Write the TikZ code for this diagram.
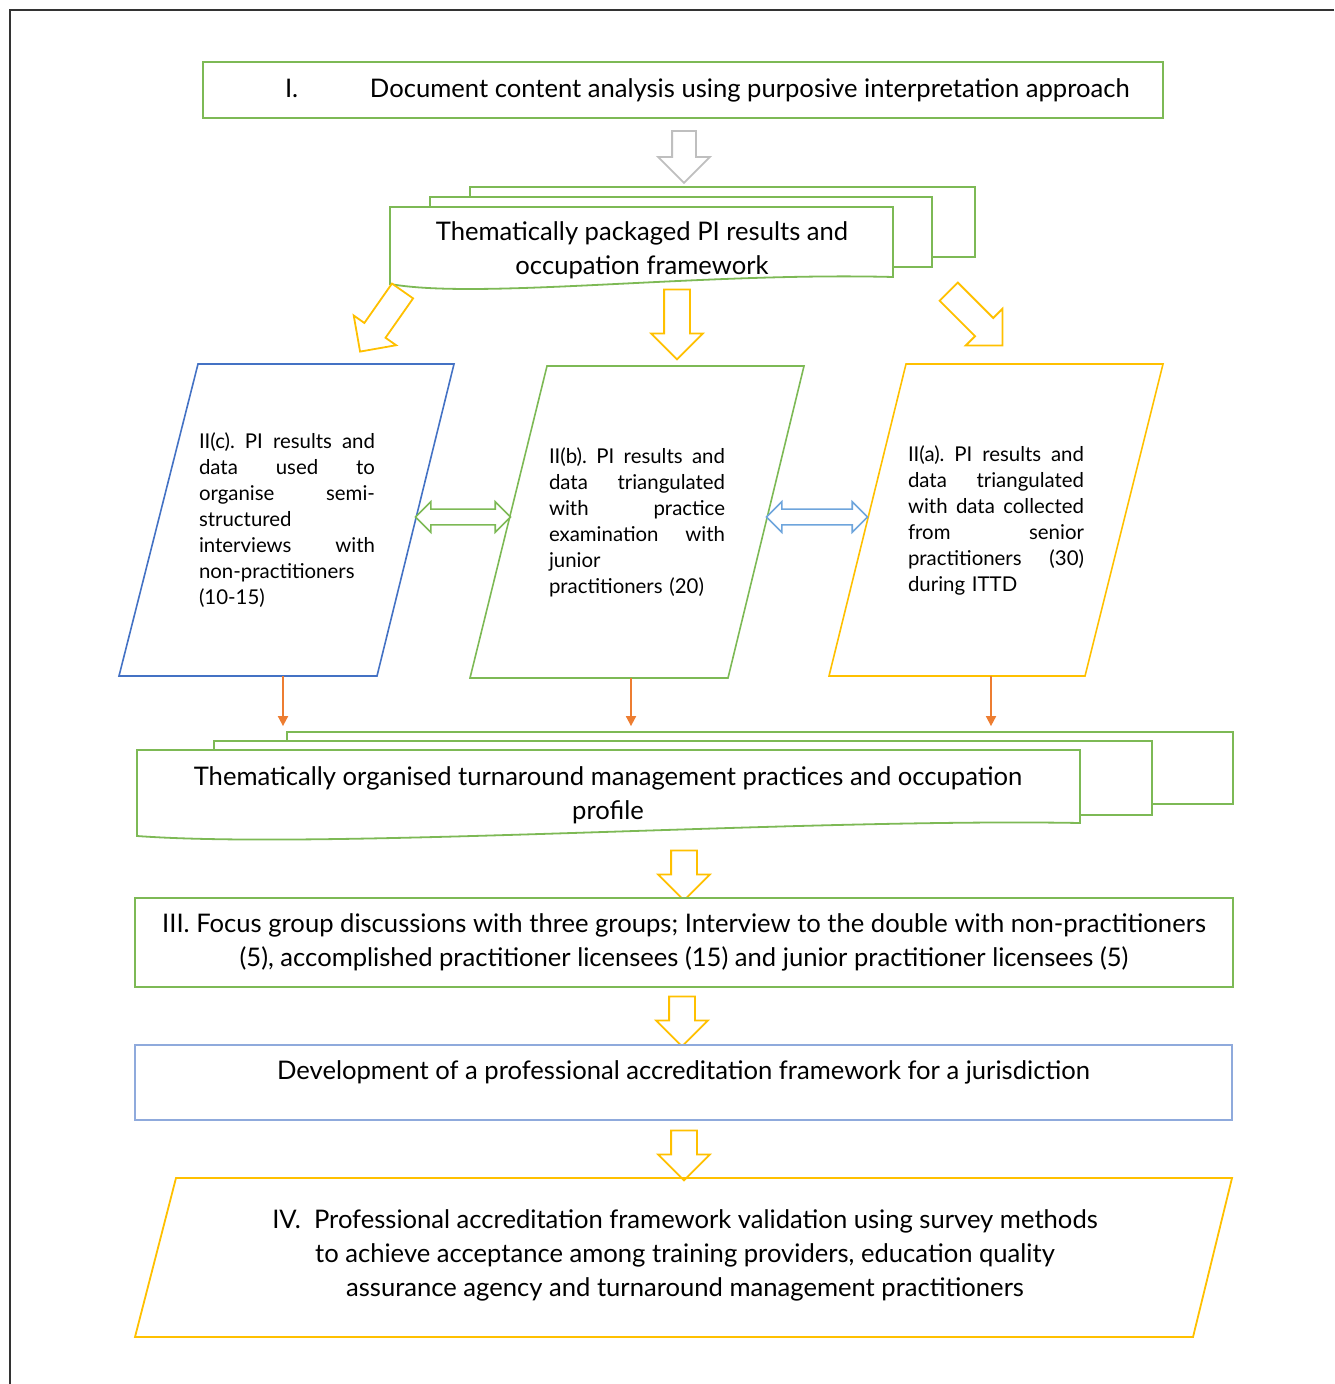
\documentclass[tikz,border=0pt]{standalone}
\usepackage{fontspec}
\setmainfont{Lato}
\usetikzlibrary{positioning,arrows.meta,calc,shapes.arrows}

\definecolor{bgreen}{RGB}{125,185,85}
\definecolor{bblue}{RGB}{68,114,196}
\definecolor{lblue}{RGB}{143,170,220}
\definecolor{sblue}{RGB}{110,165,220}
\definecolor{byellow}{RGB}{255,192,0}
\definecolor{borange}{RGB}{237,125,49}
\definecolor{lgray}{RGB}{191,191,191}

\newcommand{\sline}[1]{\leavevmode\hbox to 88pt{#1}}

\begin{document}
\begin{tikzpicture}[
  x=0.5pt, y=-0.5pt,
  big/.style={font=\fontsize{12.8}{17}\selectfont},
  small/.style={font=\fontsize{10.2}{13}\selectfont},
  block/.style={draw=#1, line width=1pt, fill=white, inner sep=0pt},
  page/.style={draw=bgreen, line width=0.9pt, fill=white, inner sep=0pt},
  ptext/.style={small, text width=88pt, minimum height=156pt, align=left, inner sep=0pt},
  para/.style={line width=0.8pt},
  harr/.style={single arrow, draw=#1, fill=white, line width=0.9pt, inner xsep=0pt,
    inner ysep=6pt, minimum width=0pt, single arrow head extend=6.5pt,
    text height=0pt, text depth=0pt},
  darr/.style={double arrow, draw=#1, fill=white, line width=0.8pt, inner xsep=0pt,
    inner ysep=3.5pt, minimum width=0pt, double arrow head extend=3.75pt,
    text height=0pt, text depth=0pt},
  oarr/.style={draw=borange, line width=0.9pt, -{Triangle[length=5pt,width=5pt]}, shorten >=2.5pt}
]
\useasboundingbox (0,0) rectangle (1334,1384);
\draw[black!80, line width=1pt] (10,1384) -- (10,10) -- (1334,10);

% step I
\node[block=bgreen, big, minimum width=480pt, minimum height=28pt] (doc) at (683,90)
  {\makebox[480pt][l]{\hspace{41pt}\makebox[42.5pt][l]{I.}Document content analysis using purposive interpretation approach}};

% packaged results (stacked pages)
\node[page, minimum width=252.5pt, minimum height=35pt] (pkback) at (722.5,222) {};
\node[page, minimum width=251pt, minimum height=35pt] (pkmid) at (681,232) {};
\draw[page] (390,207) -- (893,207) -- (893,277) .. controls (700,272) and (480,300) .. (390,284) -- cycle;
\node[big, align=center] (pack) at (642,250) {Thematically packaged PI results and\\occupation framework};

\node[harr=lgray, minimum height=26pt, rotate=-90, inner ysep=5.5pt, single arrow head extend=7pt] (a0) at (684,151) {};

% block arrows to phase II
\node[harr=byellow, minimum height=37pt, rotate=235] (a1) at (385,316) {};
\node[harr=byellow, minimum height=35pt, rotate=-90] (a2) at (677,318) {};
\node[harr=byellow, minimum height=38pt, rotate=-45] (a3) at (971,314) {};

% phase II
\draw[para, draw=bblue] (198,364) -- (454,364) -- (377,676) -- (119,676) -- cycle;
\draw[para, draw=bgreen] (547,366) -- (804,366) -- (728,678) -- (470,678) -- cycle;
\draw[para, draw=byellow] (906,364) -- (1163,364) -- (1085,676) -- (829,676) -- cycle;

\node[ptext] (IIc) at (287,520) {\sline{II(c).\hfill PI\hfill results\hfill and}\\ \sline{data\hfill used\hfill to}\\
  \sline{organise\hfill semi-}\\ structured\\ \sline{interviews\hfill with}\\ non-practitioners\\ (10-15)};
\node[ptext] (IIb) at (637,522) {\sline{II(b).\hfill PI\hfill results\hfill and}\\ \sline{data\hfill triangulated}\\
  \sline{with\hfill practice}\\ \sline{examination\hfill with}\\ junior\\ practitioners (20)};
\node[ptext] (IIa) at (996,520) {\sline{II(a).\hfill PI\hfill results\hfill and}\\ \sline{data\hfill triangulated}\\
  \sline{with\hfill data\hfill collected}\\ \sline{from\hfill senior}\\ \sline{practitioners\hfill (30)}\\ during ITTD};

\node[darr=bgreen, minimum height=47.5pt] (d1) at (463,517) {};
\node[darr=sblue, minimum height=50.5pt] (d2) at (817,517) {};

% organised practices (stacked pages)
\node[page, minimum width=473pt, minimum height=36pt] (tmback) at (760,768) {};
\node[page, minimum width=469pt, minimum height=37pt] (tmmid) at (683,778) {};
\draw[page] (137,750) -- (1080,750) -- (1080,823) .. controls (800,818) and (330,850) .. (137,836) -- cycle;
\node[big, align=center] (tm) at (608,795)
  {Thematically organised turnaround management practices and occupation\\profile};

\draw[oarr] ([xshift=-2pt]IIc.south) -- ([xshift=-2pt]IIc.south |- tmback.north);
\draw[oarr] ([xshift=-3pt]IIb.south) -- ([xshift=-3pt]IIb.south |- tmback.north);
\draw[oarr] ([xshift=-2.5pt]IIa.south) -- ([xshift=-2.5pt]IIa.south |- tmback.north);

% phase III and IV
\node[harr=byellow, minimum height=25pt, rotate=-90] (a4) at (684,869) {};
\node[block=bgreen, big, minimum width=549pt, minimum height=44.5pt, align=center] (fg) at (684,942.5)
  {III. Focus group discussions with three groups; Interview to the double with non-practitioners\\
   (5), accomplished practitioner licensees (15) and junior practitioner licensees (5)};
\node[harr=byellow, minimum height=25pt, rotate=-90] (a5) at (682,1015) {};
\node[block=lblue, big, minimum width=548.5pt, minimum height=37.5pt, text height=9pt, text depth=12.5pt] (dev) at (683.5,1082.5)
  {Development of a professional accreditation framework for a jurisdiction};
\node[harr=byellow, minimum height=25pt, rotate=-90] (a6) at (684,1149) {};
\draw[para, draw=byellow, line width=0.9pt] (176,1178) -- (1232,1178) -- (1193,1337) -- (135,1337) -- cycle;
\node[big, align=center] (val) at (685,1255)
  {IV.\ \ Professional accreditation framework validation using survey methods\\
   to achieve acceptance among training providers, education quality\\
   assurance agency and turnaround management practitioners};

\end{tikzpicture}
\end{document}
